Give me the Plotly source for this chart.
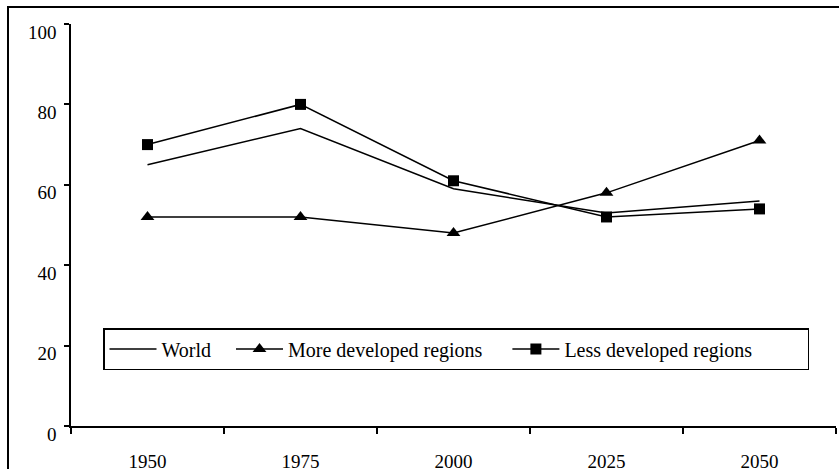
import plotly.graph_objects as go

years = ["1950", "1975", "2000", "2025", "2050"]
world = [65, 74, 59, 53, 56]
more_dev = [52, 52, 48, 58, 71]
less_dev = [70, 80, 61, 52, 54]
y_ticks = [0, 20, 40, 60, 80, 100]

W, H = 839, 469
ML, MR, MT, MB = 71, 3, 24, 43
pw = W - ML - MR
ph = H - MT - MB

FONT = "Liberation Serif, Times New Roman, serif"
NB = "\u00a0"

fig = go.Figure()
fig.add_trace(go.Scatter(x=years, y=world, mode="lines", name="World" + NB * 3,
                         line=dict(color="black", width=1.5)))
fig.add_trace(go.Scatter(x=years, y=more_dev, mode="lines+markers", name="More developed regions" + NB * 4,
                         line=dict(color="black", width=1.5),
                         marker=dict(symbol="triangle-up", size=12, color="black")))
fig.add_trace(go.Scatter(x=years, y=less_dev, mode="lines+markers", name="Less developed regions" + NB * 10,
                         line=dict(color="black", width=1.5),
                         marker=dict(symbol="square", size=11, color="black")))

fig.add_shape(type="rect", xref="paper", yref="paper",
              x0=(8 - ML) / pw, x1=1.1, y0=-0.3, y1=(H - MB - 7) / ph,
              line=dict(color="black", width=2), fillcolor="rgba(0,0,0,0)", layer="below")

fig.update_layout(
    width=W, height=H,
    margin=dict(l=ML, r=MR, t=MT, b=MB, pad=0, autoexpand=False),
    paper_bgcolor="white", plot_bgcolor="white",
    font=dict(family=FONT, size=19, color="black"),
    showlegend=True,
    legend=dict(orientation="h", x=(103 - ML) / pw, y=(H - MB - 328) / ph,
                xanchor="left", yanchor="top",
                bordercolor="black", borderwidth=1.5, bgcolor="white",
                font=dict(family=FONT, size=20, color="black"),
                itemwidth=47, tracegroupgap=0),
    xaxis=dict(type="category", range=[-0.5, 4.5], showgrid=False, zeroline=False,
               automargin=False,
               showline=True, linecolor="black", linewidth=1.5,
               ticks="outside", tickson="boundaries", ticklen=6, tickcolor="black", tickwidth=1.5,
               ticklabelstandoff=17,
               tickfont=dict(family=FONT, size=19, color="black")),
    yaxis=dict(range=[0, 100], tickvals=y_ticks, showgrid=False, zeroline=False,
               automargin=False,
               showline=True, linecolor="black", linewidth=1.5,
               ticks="outside", ticklen=5, tickcolor="black", tickwidth=1.5,
               ticklabelshift=8, ticklabelstandoff=4,
               tickfont=dict(family=FONT, size=19, color="black")),
)

fig.write_html("out.html", config={"displayModeBar": False},
               post_script="document.body.style.margin='0';document.body.style.padding='0';document.body.style.overflow='hidden';")
